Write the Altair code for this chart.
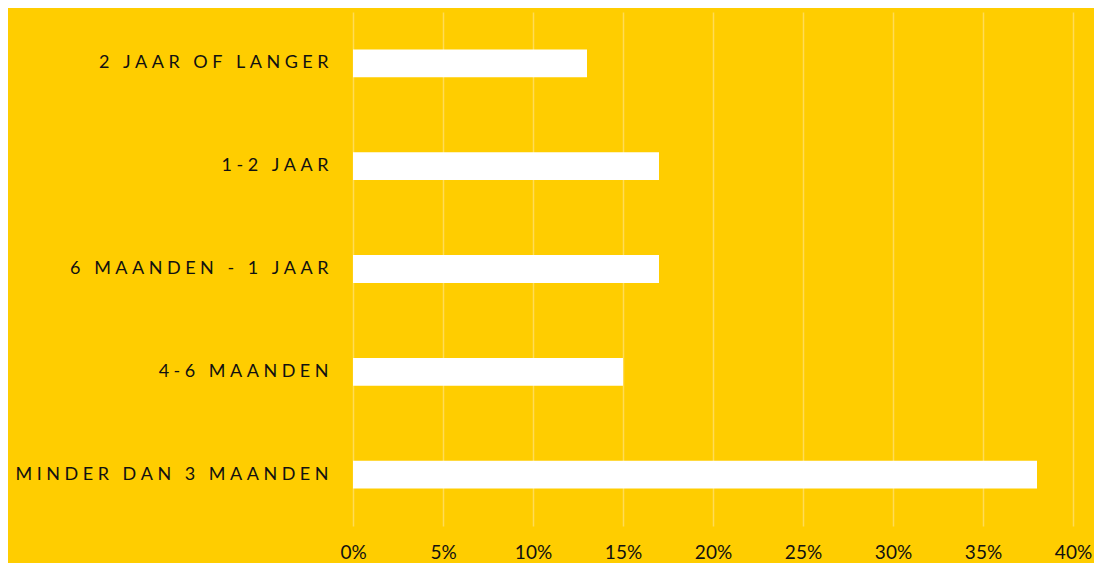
import altair as alt
import pandas as pd

categories = ["2 JAAR OF LANGER", "1-2 JAAR", "6 MAANDEN - 1 JAAR", "4-6 MAANDEN", "MINDER DAN 3 MAANDEN"]
values = [0.13, 0.17, 0.17, 0.15, 0.38]
tick_values = [0, 0.05, 0.10, 0.15, 0.20, 0.25, 0.30, 0.35, 0.40]

df = pd.DataFrame({"cat": categories, "val": values})

bg = "#FFCD00"

chart = alt.Chart(df).mark_bar(color="white").encode(
    y=alt.Y("cat:N", sort=categories,
            scale=alt.Scale(paddingInner=0.73, paddingOuter=0.365),
            axis=alt.Axis(title=None, ticks=False, domain=False, grid=False,
                          labelFont="Lato", labelFontSize=18, labelColor="#111111",
                          labelPadding=25, labelLimit=400,
                          labelExpr="join(split(datum.label, ''), '\u2009\u2009')")),
    x=alt.X("val:Q", scale=alt.Scale(domain=[0, 0.4], nice=False),
            axis=alt.Axis(title=None, format=".0%", values=tick_values, ticks=False, domain=False,
                          grid=True, gridColor="#FFDC55", gridWidth=1.5, labelFlush=False,
                          labelFont="Lato", labelFontSize=19, labelColor="#111111",
                          labelPadding=17)),
).properties(
    width=720, height=514,
    background=bg,
    padding={"left": 345, "top": 4, "right": 21, "bottom": 37},
    autosize=alt.AutoSizeParams(type="none"),
).configure_view(stroke=None, fill=bg)

chart.save("out.html", embed_options={"renderer": "svg", "actions": False})
